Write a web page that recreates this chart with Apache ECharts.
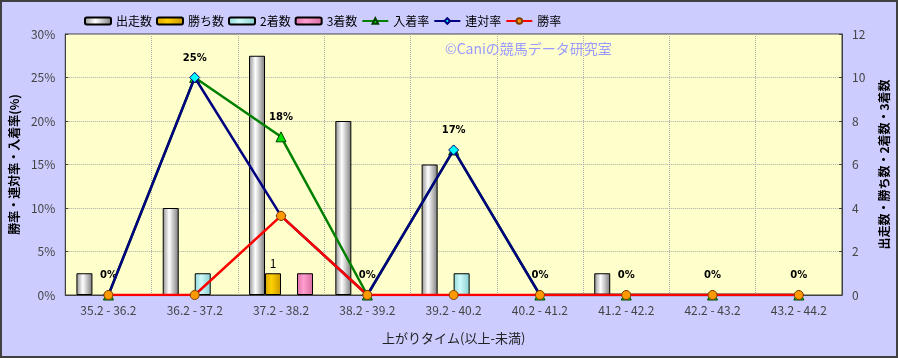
<!DOCTYPE html>
<html><head><meta charset="utf-8">
<script src="https://cdn.jsdelivr.net/npm/echarts@6/dist/echarts.min.js"></script>
<style>html,body{margin:0;padding:0;background:#CCCCFF;}#c{width:898px;height:358px;}</style>
</head><body><div id="c"></div>
<script>
const categories = ['35.2 - 36.2','36.2 - 37.2','37.2 - 38.2','38.2 - 39.2','39.2 - 40.2','40.2 - 41.2','41.2 - 42.2','42.2 - 43.2','43.2 - 44.2'];
const runs   = [1, 4, 11, 8, 6, 0, 1, 0, 0];
const wins   = [0, 0, 1, 0, 0, 0, 0, 0, 0];
const second = [0, 1, 0, 0, 1, 0, 0, 0, 0];
const third  = [0, 0, 1, 0, 0, 0, 0, 0, 0];
const placeRate = [0, 25, 18.18, 0, 16.67, 0, 0, 0, 0];
const quinellaRate = [0, 25, 9.09, 0, 16.67, 0, 0, 0, 0];
const winRate = [0, 0, 9.09, 0, 0, 0, 0, 0, 0];
const leftTicks = [0, 30, 5];
const rightTicks = [0, 12, 2];

const FONT = '"Noto Sans CJK JP", "Noto Sans", sans-serif';
function grad(edge, mid, edge2){
  return new echarts.graphic.LinearGradient(0,0,1,0,[
    {offset:0,color:edge},{offset:0.4,color:mid},{offset:1,color:edge2}]);
}
function barSeries(name, data, fill, label){
  return {
    name, type:'bar', yAxisIndex:1, data: data.map(v => v === 0 ? null : v),
    barWidth:16, barGap:'0%', barCategoryGap:'26%',
    itemStyle:{color:fill, borderColor:'#000', borderWidth:1},
    label: label ? {show:true, position:'top', distance:4, color:'#000', fontSize:12, fontFamily:FONT,
      formatter:p=> String(p.value)} : {show:false},
    z:2
  };
}
const chart = echarts.init(document.getElementById('c'), null, {renderer:'canvas'});
chart.setOption({
  animation:false,
  backgroundColor:'#CCCCFF',
  textStyle:{fontFamily:FONT},
  legend:{
    left:79, top:10, itemWidth:26, itemHeight:7, itemGap:4,
    textStyle:{fontSize:12, color:'#000', fontFamily:FONT},
    data:['出走数','勝ち数','2着数','3着数','入着率','連対率','勝率']
  },
  grid:{left:64, right:53, top:34, bottom:63, show:true, backgroundColor:'#FFFFCC', borderColor:'#404040', borderWidth:1},
  xAxis:{
    type:'category', data:categories, boundaryGap:true,
    name:'上がりタイム(以上-未満)', nameLocation:'middle', nameGap:37,
    nameTextStyle:{fontSize:13, color:'#222', fontFamily:FONT},
    axisLine:{lineStyle:{color:'#404040'}},
    axisTick:{show:false},
    axisLabel:{fontSize:12, color:'#444', margin:9, fontFamily:FONT},
    splitLine:{show:true, lineStyle:{color:'#aaa', type:'dotted'}}
  },
  yAxis:[
    {type:'value', min:leftTicks[0], max:leftTicks[1], interval:leftTicks[2], position:'left',
     name:'勝率・連対率・入着率(%)', nameLocation:'middle', nameGap:40, nameRotate:90,
     nameTextStyle:{fontSize:12, color:'#000', fontWeight:'bold', fontFamily:FONT},
     axisLine:{show:true, lineStyle:{color:'#404040'}},
     axisTick:{show:true, inside:true, length:3, lineStyle:{color:'#404040'}},
     axisLabel:{formatter:'{value}%', fontSize:12, color:'#444', margin:10, fontFamily:FONT},
     splitLine:{show:true, lineStyle:{color:'#aaa', type:'dotted'}}},
    {type:'value', min:rightTicks[0], max:rightTicks[1], interval:rightTicks[2], position:'right',
     name:'出走数・勝ち数・2着数・3着数', nameLocation:'middle', nameGap:36, nameRotate:90,
     nameTextStyle:{fontSize:12, color:'#000', fontWeight:'bold', fontFamily:FONT},
     axisLine:{show:true, lineStyle:{color:'#404040'}},
     axisTick:{show:true, inside:true, length:3, lineStyle:{color:'#404040'}},
     axisLabel:{fontSize:12, color:'#444', margin:10, fontFamily:FONT},
     splitLine:{show:false}}
  ],
  series:[
    barSeries('出走数', runs, grad('#909090','#ffffff','#7a7a7a'), false),
    barSeries('勝ち数', wins, grad('#d9a400','#ffd000','#c89600'), true),
    barSeries('2着数', second, grad('#8fd8d8','#cffafa','#88cfcf'), false),
    barSeries('3着数', third, grad('#e070a8','#ff9fcf','#d86aa0'), false),
    {name:'入着率', type:'line', yAxisIndex:0, data:placeRate, z:3,
     lineStyle:{color:'#008000', width:2.5}, itemStyle:{color:'#00E000', borderColor:'#004000', borderWidth:1},
     symbol:'triangle', symbolSize:10, showAllSymbol:true,
     label:{show:true, position:'top', distance:9, color:'#000', fontSize:10, fontWeight:'bold', fontFamily:'"DejaVu Sans", sans-serif',
       formatter:p=>Math.round(p.value)+'%'}},
    {name:'連対率', type:'line', yAxisIndex:0, data:quinellaRate, z:4,
     lineStyle:{color:'#000080', width:2.5}, itemStyle:{color:'#00FFFF', borderColor:'#000080', borderWidth:1},
     symbol:'diamond', symbolSize:10, showAllSymbol:true},
    {name:'勝率', type:'line', yAxisIndex:0, data:winRate, z:5,
     lineStyle:{color:'#FF0000', width:2.5}, itemStyle:{color:'#FF9900', borderColor:'#804000', borderWidth:1},
     symbol:'circle', symbolSize:9, showAllSymbol:true}
  ],
  graphic:[
    {type:'text', left:445, top:42, z:10, style:{text:'©Caniの競馬データ研究室', fill:'#9999FF', fontSize:14, fontFamily:FONT}},
    {type:'rect', z:100, silent:true, shape:{x:1,y:1,width:896,height:356}, style:{fill:'none', stroke:'#404040', lineWidth:2}}
  ]
});
</script></body></html>
